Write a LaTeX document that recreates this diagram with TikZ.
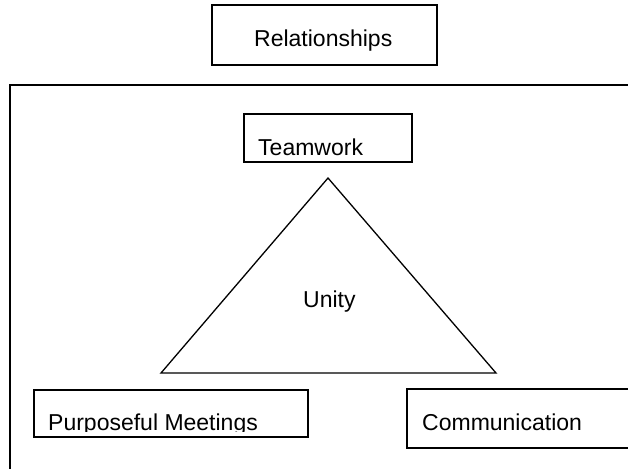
\documentclass[tikz,border=0pt]{standalone}
\usepackage{fontspec}
\setmainfont{Liberation Sans}
\tikzset{
  box/.style={draw, line width=1.3pt, inner sep=0pt, outer sep=0pt},
  lbl/.style={anchor=base west, inner sep=0pt, font=\fontsize{23}{27}\selectfont},
  edge/.style={line width=1.3pt, line join=miter}
}
\begin{document}
\begin{tikzpicture}[x=1pt,y=-1pt]
\useasboundingbox (0,0) rectangle (628,468);
\clip (0,0) rectangle (628,468);
% outer frame (runs off the page to the right and bottom)
\node[box, minimum width=640pt, minimum height=405pt] (frame) at (330,287.5) {};
% Relationships
\node[box, minimum width=225pt, minimum height=60pt] (relbox) at (324.5,35) {};
\node[lbl] (rel) at (254,47) {Relationships};
% Teamwork
\node[box, minimum width=168pt, minimum height=48pt] (teambox) at (328,138) {};
\node[lbl] (team) at (258,155) {Teamwork};
% Triangle
\coordinate (apex) at (328,178);
\coordinate (bl) at (161,373);
\coordinate (br) at (496,373);
\draw[edge] (apex) -- (bl) -- (br) -- cycle;
\node[lbl] (unity) at (303,307) {Unity};
% Purposeful Meetings
\node[box, minimum width=274pt, minimum height=47pt] (meetbox) at (171,413.5) {};
\begin{scope}
  \clip (34,390) rectangle (308,431);
  \node[lbl] (meet) at (48,430) {Purposeful Meetings};
\end{scope}
% Communication
\node[box, minimum width=253pt, minimum height=59pt] (commbox) at (533.5,418.5) {};
\node[lbl] (comm) at (422,430) {Communication};
\end{tikzpicture}
\end{document}
